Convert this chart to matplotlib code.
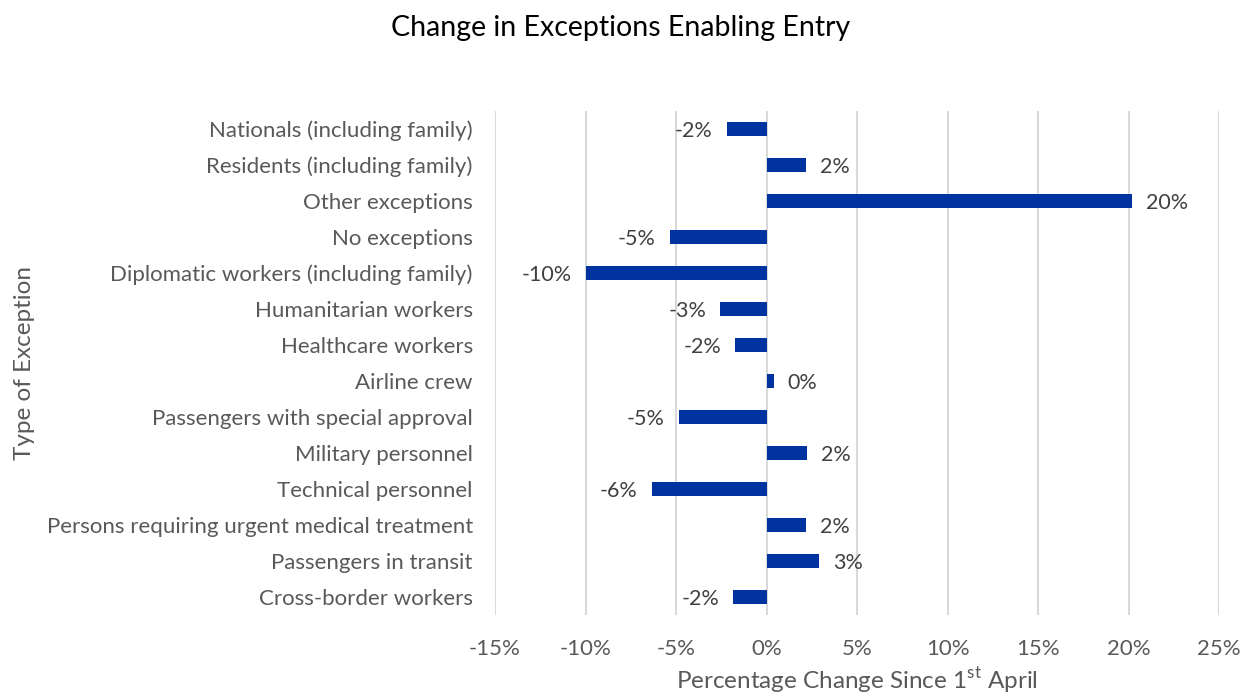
import matplotlib
matplotlib.use('Agg')
from matplotlib import pyplot as plt
from matplotlib.ticker import FuncFormatter

plt.rcParams['font.family'] = ['Lato', 'DejaVu Sans']
plt.rcParams['mathtext.fontset'] = 'custom'
plt.rcParams['mathtext.rm'] = 'Lato'

# categories listed top to bottom as in the chart
categories = [
    'Nationals (including family)',
    'Residents (including family)',
    'Other exceptions',
    'No exceptions',
    'Diplomatic workers (including family)',
    'Humanitarian workers',
    'Healthcare workers',
    'Airline crew',
    'Passengers with special approval',
    'Military personnel',
    'Technical personnel',
    'Persons requiring urgent medical treatment',
    'Passengers in transit',
    'Cross-border workers',
]
# percentage change since 1st April
changes = [-2.2, 2.2, 20.2, -5.35, -10.0, -2.55, -1.75, 0.4, -4.85, 2.25, -6.35, 2.2, 2.9, -1.85]
x_ticks = [-15, -10, -5, 0, 5, 10, 15, 20, 25]

bar_color = '#0033a0'
text_gray = '#595959'

fig = plt.figure(figsize=(12.42, 6.97), dpi=100)
ax = fig.add_axes([0.3986, 0.1176, 0.5829, 0.7231])

ypos = list(range(len(categories)))
ax.barh(ypos, changes, height=0.4, color=bar_color, zorder=3)
ax.set_ylim(len(categories) - 0.5, -0.5)
ax.set_yticks(ypos)
ax.set_yticklabels(categories, fontsize=16, color=text_gray)

ax.set_xlim(-15, 25)
ax.set_xticks(x_ticks)
ax.xaxis.set_major_formatter(FuncFormatter(lambda v, p: '%d%%' % v))
ax.tick_params(axis='x', labelsize=16, labelcolor=text_gray, length=0, pad=17)
ax.tick_params(axis='y', length=0, pad=16)
ax.grid(axis='x', color='#d9d9d9', linewidth=1.5, zorder=0)
for s in ax.spines.values():
    s.set_visible(False)

# data labels outside bar ends
for y, v in zip(ypos, changes):
    lab = '%d%%' % round(v)
    if v < 0:
        ax.annotate(lab, (v, y), xytext=(-10, 0), textcoords='offset points',
                    ha='right', va='center_baseline', fontsize=15.5, color='#404040')
    else:
        ax.annotate(lab, (v, y), xytext=(10, 0), textcoords='offset points',
                    ha='left', va='center_baseline', fontsize=15.5, color='#404040')

ax.set_xlabel(r'Percentage Change Since 1$^{\mathrm{st}}$ April', fontsize=17.5, color=text_gray, labelpad=5)
ax.set_ylabel('Type of Exception', fontsize=17.5, color=text_gray)
ax.yaxis.set_label_coords(-0.636, 0.5)
fig.text(0.5, 0.96, 'Change in Exceptions Enabling Entry', ha='center', va='center', fontsize=20.5, color='black')

fig.savefig('out.png', dpi=100)
